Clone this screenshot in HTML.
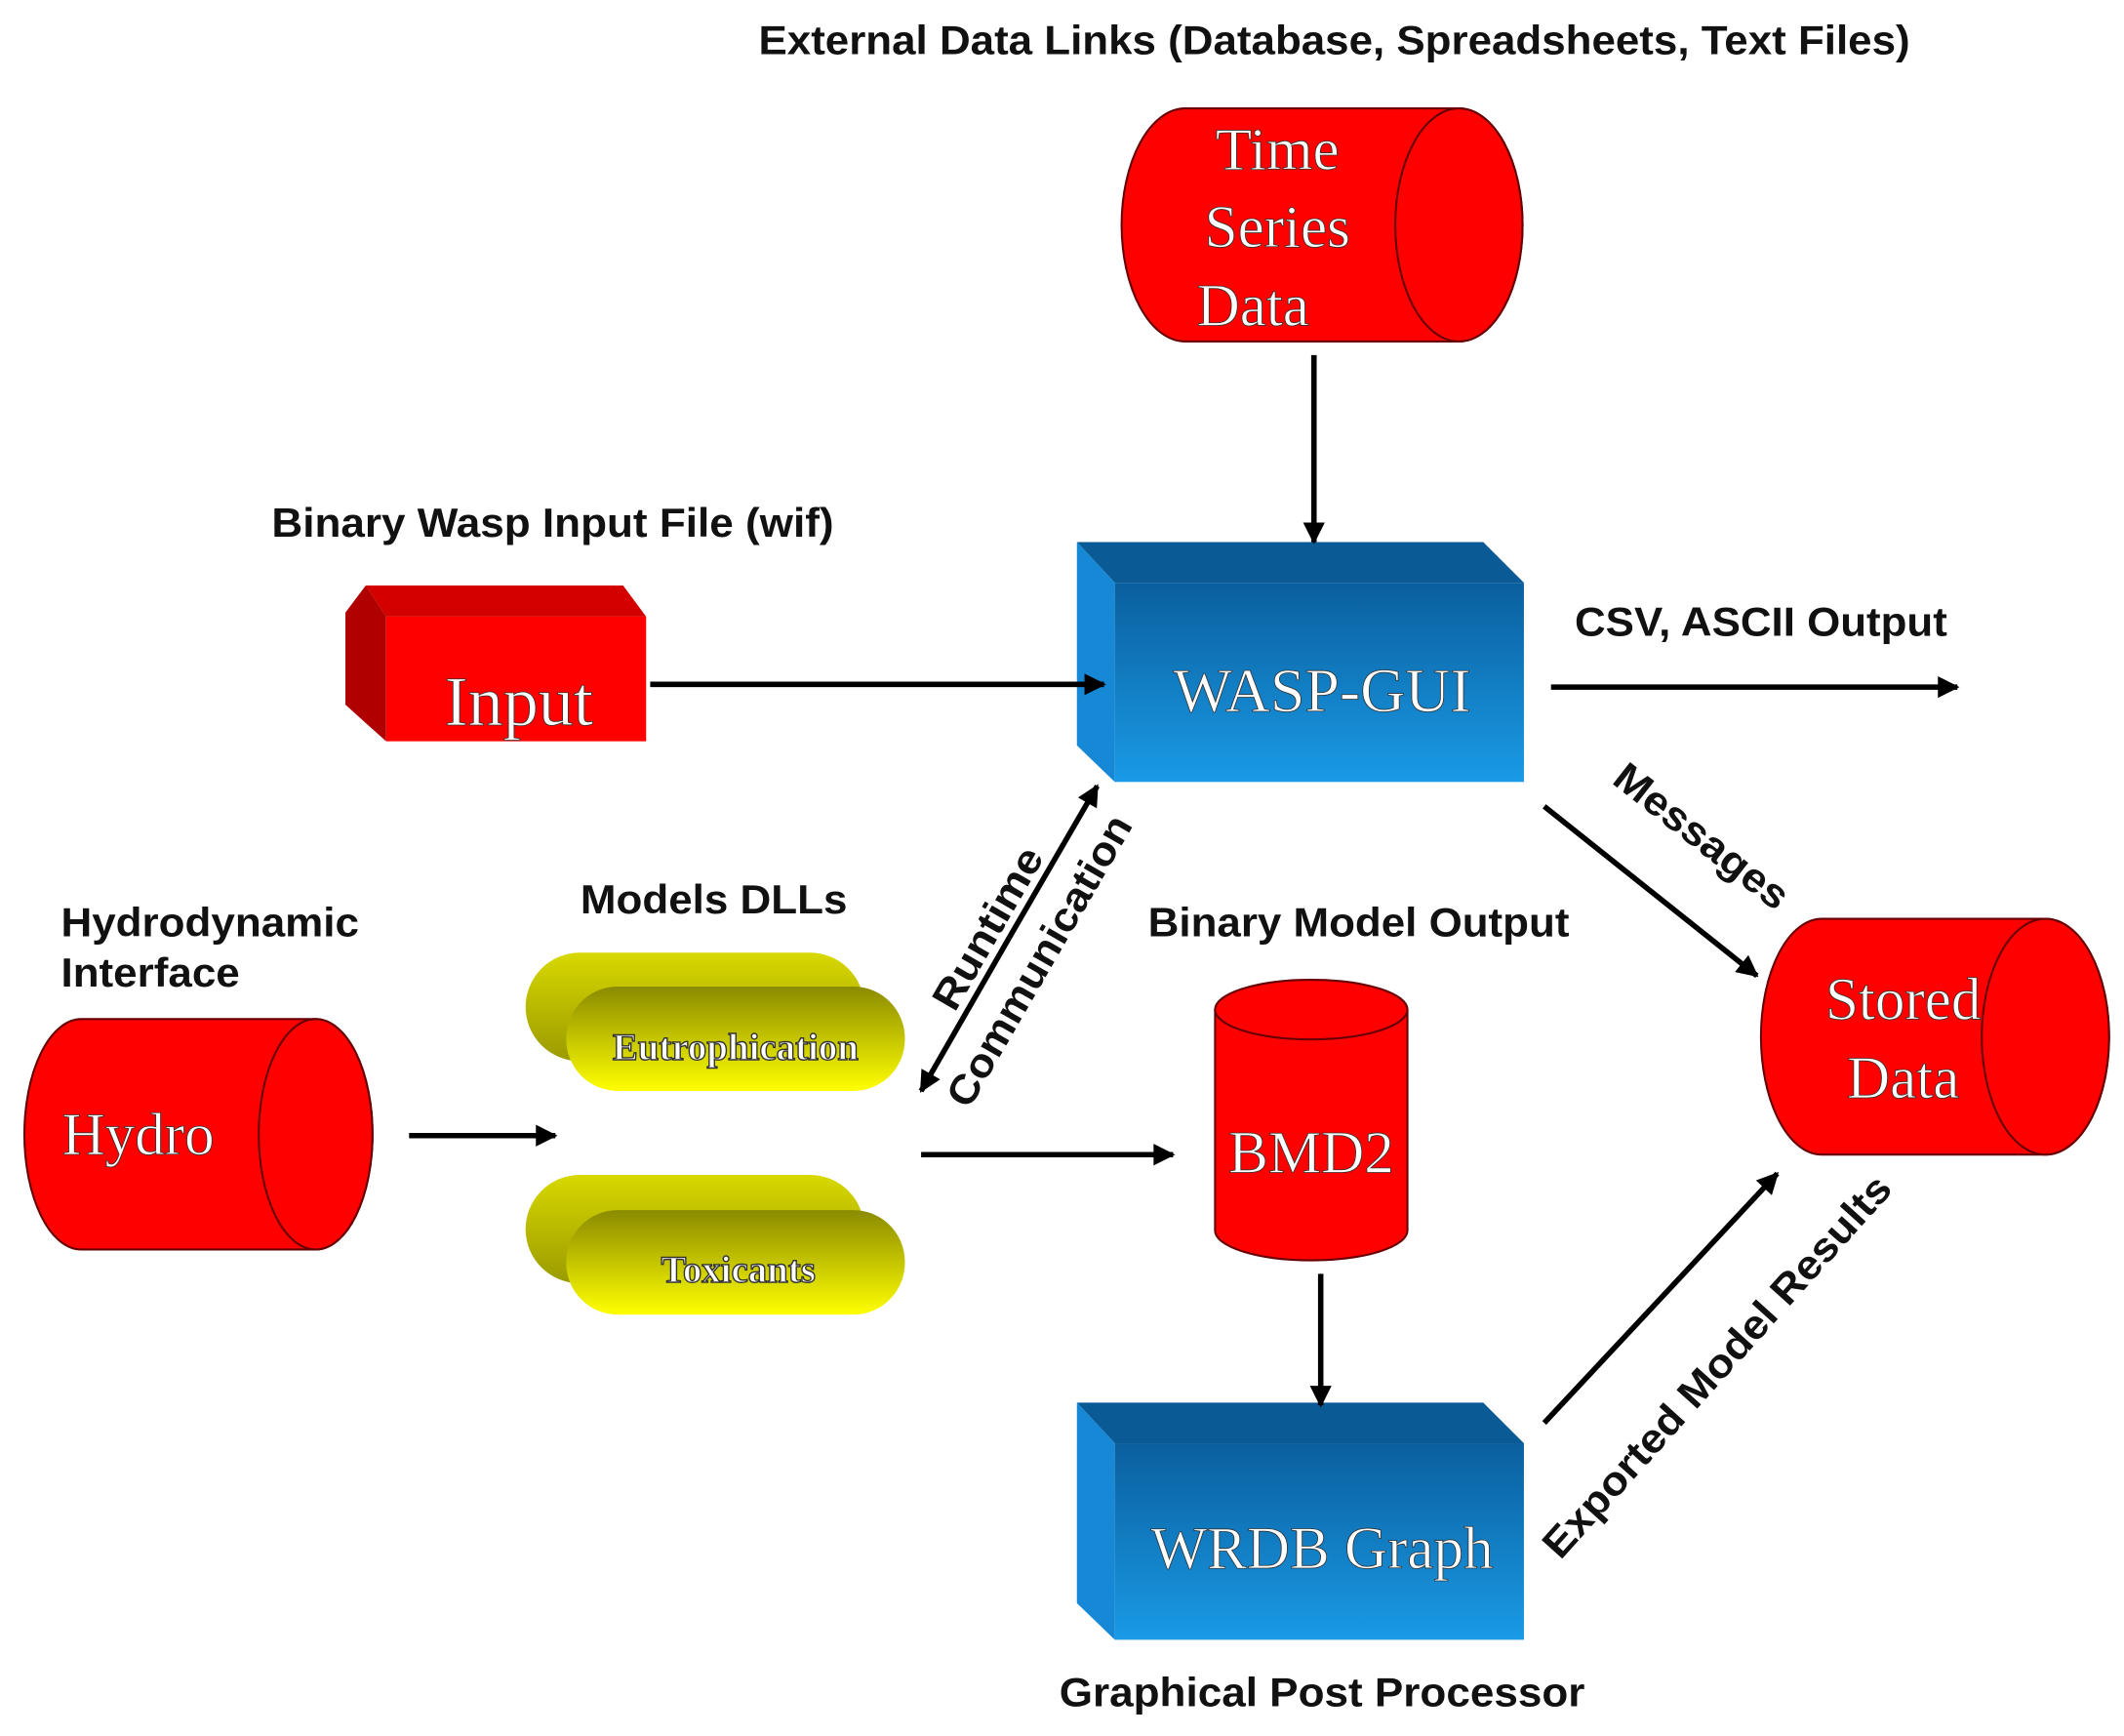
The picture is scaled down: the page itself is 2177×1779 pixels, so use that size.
<!DOCTYPE html>
<html><head><meta charset="utf-8"><style>html,body{margin:0;padding:0;background:#fff}svg{display:block}</style></head>
<body>
<svg width="2177" height="1779" viewBox="0 0 1568 1281" preserveAspectRatio="none" xmlns="http://www.w3.org/2000/svg">
<defs>
<marker id="a" viewBox="0 0 10 10" refX="9" refY="5" markerWidth="18" markerHeight="16" orient="auto" markerUnits="userSpaceOnUse"><path d="M0,0 L10,5 L0,10 Z" fill="#000"/></marker>
<linearGradient id="bf" x1="0" y1="0" x2="0" y2="1"><stop offset="0" stop-color="#0a5f9e"/><stop offset="1" stop-color="#1a9ae6"/></linearGradient>
<linearGradient id="yf" x1="0" y1="0" x2="0" y2="1"><stop offset="0" stop-color="#8a8a00"/><stop offset="1" stop-color="#ffff00"/></linearGradient>
<linearGradient id="yt" x1="0" y1="0" x2="0" y2="1"><stop offset="0" stop-color="#d8d800"/><stop offset="1" stop-color="#9a9a00"/></linearGradient>
</defs>
<g font-family="Liberation Sans, sans-serif" font-weight="bold" font-size="30" fill="#111" lengthAdjust="spacingAndGlyphs">
<text x="985" y="40" text-anchor="middle" textLength="850" lengthAdjust="spacingAndGlyphs">External Data Links (Database, Spreadsheets, Text Files)</text>
<text x="408" y="396" text-anchor="middle" textLength="415" lengthAdjust="spacingAndGlyphs">Binary Wasp Input File (wif)</text>
<text x="1300" y="469" text-anchor="middle" textLength="275" lengthAdjust="spacingAndGlyphs">CSV, ASCII Output</text>
<text x="45" y="691" textLength="220" lengthAdjust="spacingAndGlyphs">Hydrodynamic</text>
<text x="45" y="728" textLength="132" lengthAdjust="spacingAndGlyphs">Interface</text>
<text x="527" y="674" text-anchor="middle" textLength="197" lengthAdjust="spacingAndGlyphs">Models DLLs</text>
<text x="1003" y="691" text-anchor="middle" textLength="311" lengthAdjust="spacingAndGlyphs">Binary Model Output</text>
<text x="976" y="1259" text-anchor="middle" textLength="388" lengthAdjust="spacingAndGlyphs">Graphical Post Processor</text>
<text transform="translate(1250,625) rotate(38)" text-anchor="middle" textLength="155" lengthAdjust="spacingAndGlyphs">Messages</text>
<text transform="translate(1275,1015) rotate(-48)" text-anchor="middle" textLength="368" lengthAdjust="spacingAndGlyphs">Exported Model Results</text>
<text transform="translate(738,690) rotate(-60)" text-anchor="middle" textLength="133" lengthAdjust="spacingAndGlyphs">Runtime</text>
<text transform="translate(776,714) rotate(-60)" text-anchor="middle" textLength="243" lengthAdjust="spacingAndGlyphs">Communication</text>
</g>
<path d="M875,80 L1077,80 A47,86 0 0 1 1077,252 L875,252 A47,86 0 0 1 875,80 Z" fill="#ff0000" stroke="#600" stroke-width="1.5"/>
<ellipse cx="1077" cy="166" rx="47" ry="86" fill="#ff0000" stroke="#600" stroke-width="1.5"/>
<path d="M60,752 L233,752 A42,85 0 0 1 233,922 L60,922 A42,85 0 0 1 60,752 Z" fill="#ff0000" stroke="#600" stroke-width="1.5"/>
<ellipse cx="233" cy="837" rx="42" ry="85" fill="#ff0000" stroke="#600" stroke-width="1.5"/>
<path d="M1345,678 L1510,678 A47,87 0 0 1 1510,852 L1345,852 A45,87 0 0 1 1345,678 Z" fill="#ff0000" stroke="#600" stroke-width="1.5"/>
<ellipse cx="1510" cy="765" rx="47" ry="87" fill="#ff0000" stroke="#600" stroke-width="1.5"/>
<path d="M897,745 L897,908 A71,22 0 0 0 1039,908 L1039,745 Z" fill="#ff0000" stroke="#600" stroke-width="1.5"/>
<ellipse cx="968" cy="745" rx="71" ry="22" fill="#ff0000" stroke="#600" stroke-width="1.5"/>
<polygon points="795,400 1095,400 1125,430 823,430" fill="#0a5a96"/>
<polygon points="795,400 823,430 823,577 795,550" fill="#1688d6"/>
<rect x="823" y="430" width="302" height="147" fill="url(#bf)"/>
<polygon points="795,1035 1095,1035 1125,1065 823,1065" fill="#0a5a96"/>
<polygon points="795,1035 823,1065 823,1210 795,1183" fill="#1688d6"/>
<rect x="823" y="1065" width="302" height="145" fill="url(#bf)"/>
<polygon points="270,432 460,432 477,455 285,455" fill="#d40000"/>
<polygon points="255,452 270,432 285,455 285,547 255,520" fill="#b00000"/>
<rect x="285" y="455" width="192" height="92" fill="#ff0000"/>
<rect x="388" y="703" width="250" height="80" rx="40" fill="url(#yt)"/>
<rect x="418" y="728" width="250" height="77" rx="38" fill="url(#yf)"/>
<rect x="388" y="867" width="250" height="80" rx="40" fill="url(#yt)"/>
<rect x="418" y="893" width="250" height="77" rx="38" fill="url(#yf)"/>
<g font-family="Liberation Serif, serif" fill="#fff" stroke="#333" stroke-width="0.6">
<text x="943" y="125" font-size="44" text-anchor="middle">Time</text>
<text x="943" y="182" font-size="44" text-anchor="middle">Series</text>
<text x="925" y="240" font-size="44" text-anchor="middle">Data</text>
<text x="976" y="525" font-size="46" text-anchor="middle">WASP-GUI</text>
<text x="976" y="1157" font-size="44" text-anchor="middle">WRDB Graph</text>
<text x="383" y="535" font-size="52" text-anchor="middle">Input</text>
<text x="102" y="852" font-size="44" text-anchor="middle">Hydro</text>
<text x="1405" y="752" font-size="44" text-anchor="middle">Stored</text>
<text x="1405" y="810" font-size="44" text-anchor="middle">Data</text>
<text x="968" y="865" font-size="44" text-anchor="middle">BMD2</text>
<text x="543" y="782" font-size="28" font-weight="bold" text-anchor="middle" stroke-width="1">Eutrophication</text>
<text x="545" y="946" font-size="28" font-weight="bold" text-anchor="middle" stroke-width="1">Toxicants</text>
</g>
<g stroke="#000" stroke-width="4" fill="none">
<line x1="970" y1="262" x2="970" y2="400" marker-end="url(#a)"/>
<line x1="480" y1="505" x2="815" y2="505" marker-end="url(#a)"/>
<line x1="1145" y1="507" x2="1445" y2="507" marker-end="url(#a)"/>
<line x1="1140" y1="595" x2="1297" y2="720" marker-end="url(#a)"/>
<line x1="745" y1="692" x2="810" y2="580" marker-end="url(#a)"/>
<line x1="745" y1="692" x2="680" y2="805" marker-end="url(#a)"/>
<line x1="302" y1="838" x2="410" y2="838" marker-end="url(#a)"/>
<line x1="680" y1="852" x2="866" y2="852" marker-end="url(#a)"/>
<line x1="975" y1="940" x2="975" y2="1037" marker-end="url(#a)"/>
<line x1="1140" y1="1050" x2="1312" y2="866" marker-end="url(#a)"/>
</g>
</svg>
</body></html>
